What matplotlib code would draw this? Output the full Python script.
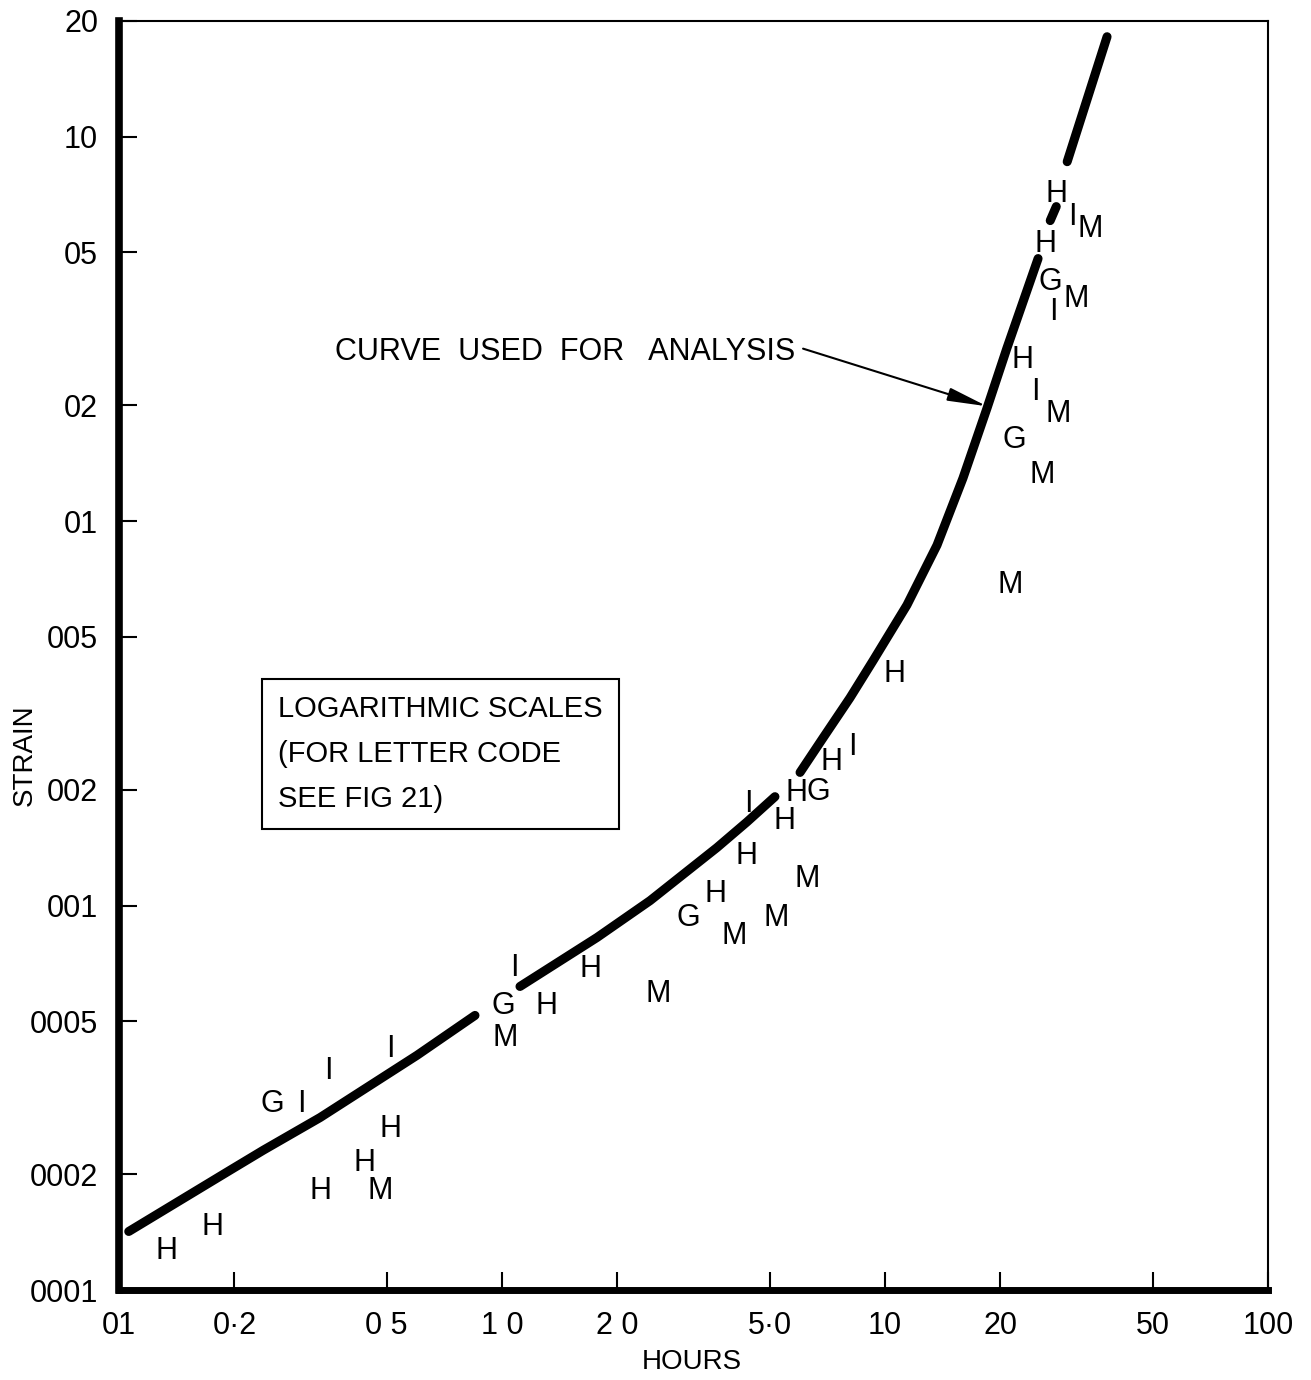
import matplotlib
matplotlib.use("Agg")
import matplotlib.pyplot as plt

plt.rcParams['font.family'] = ['Liberation Sans', 'DejaVu Sans']

# curve used for analysis, drawn in five separate strokes
seg1_hours = [0.106, 0.195, 0.238, 0.335, 0.600, 0.850]
seg1_strain = [1.42e-4, 2.05e-4, 2.31e-4, 2.81e-4, 4.08e-4, 5.18e-4]
seg2_hours = [1.114, 1.77, 2.435, 3.64, 4.36, 5.16]
seg2_strain = [6.16e-4, 8.26e-4, 1.03e-3, 1.415e-3, 1.65e-3, 1.92e-3]
seg3_hours = [6.0, 6.89, 8.10, 9.30, 11.41, 13.67, 15.98, 18.46, 20.8, 25.1]
seg3_strain = [2.22e-3, 2.73e-3, 3.47e-3, 4.33e-3, 6.05e-3, 8.66e-3,
               0.01294, 0.01966, 0.02814, 0.0482]
seg4_hours = [27.0, 28.0]
seg4_strain = [0.0605, 0.0658]
seg5_hours = [29.9, 38.0]
seg5_strain = [0.0861, 0.182]

# test points (letter code)
codes = ['H', 'H', 'G', 'I', 'I', 'I', 'H', 'H', 'M', 'H',
         'I', 'G', 'M', 'H', 'H', 'M', 'G', 'H', 'M', 'M',
         'H', 'M', 'I', 'H', 'H', 'G', 'H', 'I', 'H', 'M',
         'G', 'M', 'M', 'I', 'H', 'I', 'G', 'M', 'H', 'H',
         'I', 'M']
hours = [0.133, 0.175, 0.252, 0.299, 0.352, 0.511, 0.336, 0.438, 0.480, 0.511,
         1.075, 1.006, 1.018, 1.31, 1.70, 2.55, 3.06, 3.60, 4.05, 5.19,
         4.36, 6.25, 4.39, 5.48, 5.89, 6.68, 7.27, 8.21, 10.56, 21.2,
         21.8, 25.7, 28.3, 24.7, 22.8, 27.5, 27.0, 31.5, 26.2, 28.1,
         30.8, 34.3]
strain = [1.29e-4, 1.49e-4, 3.12e-4, 3.12e-4, 3.79e-4, 4.33e-4, 1.85e-4, 2.18e-4, 1.85e-4, 2.68e-4,
          7.03e-4, 5.60e-4, 4.62e-4, 5.60e-4, 6.98e-4, 6.02e-4, 9.48e-4, 1.094e-3, 8.51e-4, 9.48e-4,
          1.374e-3, 1.197e-3, 1.875e-3, 1.694e-3, 2.0e-3, 2.02e-3, 2.42e-3, 2.64e-3, 4.10e-3, 6.98e-3,
          0.01663, 0.01349, 0.0194, 0.02216, 0.02683, 0.0357, 0.0428, 0.0387, 0.0537, 0.0724,
          0.0631, 0.0588]

x_ticks = [0.1, 0.2, 0.5, 1, 2, 5, 10, 20, 50, 100]
x_labels = ['01', '0·2', '0 5', '1 0', '2 0', '5·0', '10', '20', '50', '100']
y_ticks = [0.2, 0.1, 0.05, 0.02, 0.01, 0.005, 0.002, 0.001, 0.0005, 0.0002, 0.0001]
y_labels = ['20', '10', '05', '02', '01', '005', '002', '001', '0005', '0002', '0001']

fig = plt.figure(figsize=(13.11, 13.8), dpi=100)
ax = fig.add_axes([0.0908, 0.0652, 0.8764, 0.9196])
ax.set_xscale('log')
ax.set_yscale('log')
ax.set_xlim(0.1, 100)
ax.set_ylim(0.0001, 0.2)

for sx, sy in [(seg1_hours, seg1_strain), (seg2_hours, seg2_strain), (seg3_hours, seg3_strain),
               (seg4_hours, seg4_strain), (seg5_hours, seg5_strain)]:
    ax.plot(sx, sy, color='black', lw=6.5, solid_capstyle='round', solid_joinstyle='round')

for c, hx, sy in zip(codes, hours, strain):
    ax.text(hx, sy, c, fontsize=22, ha='center', va='center_baseline')

# annotation and arrow
ax.text(5.82, 0.0281, 'CURVE  USED  FOR   ANALYSIS', fontsize=22, ha='right', va='center_baseline')
ax.annotate('', xy=(18.46, 0.0199), xytext=(6.11, 0.0281),
            arrowprops=dict(arrowstyle='-|>,head_length=1.2,head_width=0.2',
                            lw=1.5, color='black', mutation_scale=20,
                            shrinkA=0, shrinkB=0))

ax.text(0.260, 0.00248, 'LOGARITHMIC SCALES\n(FOR LETTER CODE\nSEE FIG 21)',
        fontsize=21, ha='left', va='center', linespacing=1.78,
        bbox=dict(boxstyle='square,pad=0.55', fc='white', ec='black', lw=1.5))

ax.minorticks_off()
ax.set_xticks(x_ticks, x_labels)
ax.set_yticks(y_ticks, y_labels)
ax.tick_params(direction='in', length=13, width=1.5, labelsize=22)
ax.tick_params(axis='x', pad=15)
ax.tick_params(axis='y', pad=15)

ax.spines['left'].set_linewidth(5.5)
ax.spines['bottom'].set_linewidth(5)
ax.spines['top'].set_linewidth(1.5)
ax.spines['right'].set_linewidth(1.5)

ax.text(-0.082, 0.4216, 'STRAIN', transform=ax.transAxes, rotation=90,
        fontsize=20, ha='center', va='center')
ax.text(0.4987, -0.0567, 'HOURS', transform=ax.transAxes,
        fontsize=20, ha='center', va='center')

fig.savefig('out.png', dpi=100)
